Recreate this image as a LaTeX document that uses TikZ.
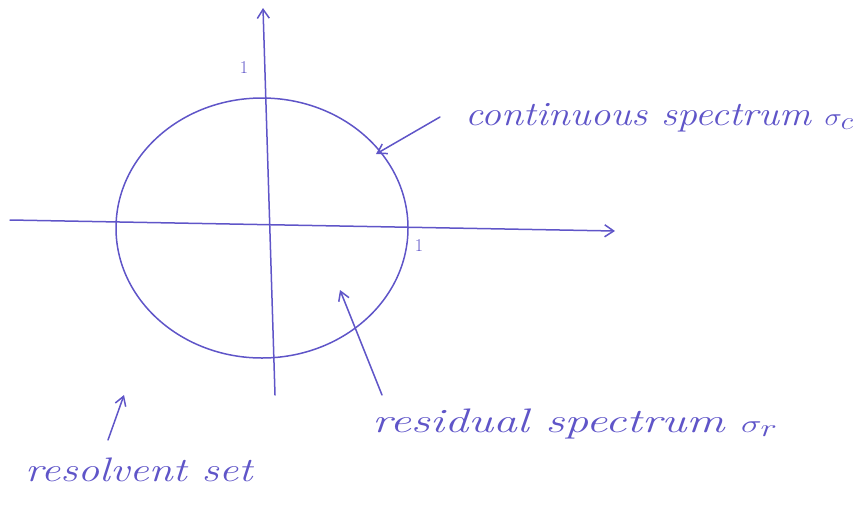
\documentclass[tikz,border=0pt]{standalone}
\usepackage{fontspec}
\setmainfont{Latin Modern Roman}
\usetikzlibrary{arrows.meta}
\definecolor{ink}{RGB}{95,85,200}
\begin{document}
\begin{tikzpicture}[x=1pt,y=-1pt,
  ink/.style={draw=ink,line width=1.5pt,line cap=round},
  axis/.style={ink,-{Straight Barb[length=9pt,width=12pt]}},
  pointer/.style={ink,-{Straight Barb[length=9pt,width=11pt]}},
  lbl/.style={text=ink,font=\itshape\fontsize{34}{36}\selectfont,inner sep=0pt},
  tick/.style={text=ink,font=\fontsize{18}{20}\selectfont,inner sep=0pt}]
\useasboundingbox (0,0) rectangle (856,504);
% axes
\coordinate (xs) at (10,220);
\coordinate (xe) at (615,231);
\coordinate (ys) at (275,395);
\coordinate (ye) at (263,8);
\draw[axis] (xs) -- (xe);
\draw[axis] (ys) -- (ye);
% circle
\draw[ink] (262,228) ellipse [x radius=146, y radius=130];
% tick labels
\node[tick] (t1) at (244,68) {1};
\node[tick] (t2) at (419,246) {1};
% labels
\node[lbl,anchor=west] (cont) at (465,118) {\scalebox{1.17}[1]{continuous spectrum $\sigma_c$}};
\node[lbl,anchor=west] (resid) at (372,424) {\scalebox{1.4}[1]{residual spectrum $\sigma_r$}};
\node[lbl,anchor=west] (resol) at (25,470) {\scalebox{1.27}[1]{resolvent set}};
% pointer targets
\coordinate (c1) at (440,117);
\coordinate (c2) at (376,154);
\coordinate (r1) at (382,395);
\coordinate (r2) at (340,290);
\coordinate (s1) at (108,440);
\coordinate (s2) at (124,395);
\draw[pointer] (c1) -- (c2);
\draw[pointer] (r1) -- (r2);
\draw[pointer] (s1) -- (s2);
\end{tikzpicture}
\end{document}
